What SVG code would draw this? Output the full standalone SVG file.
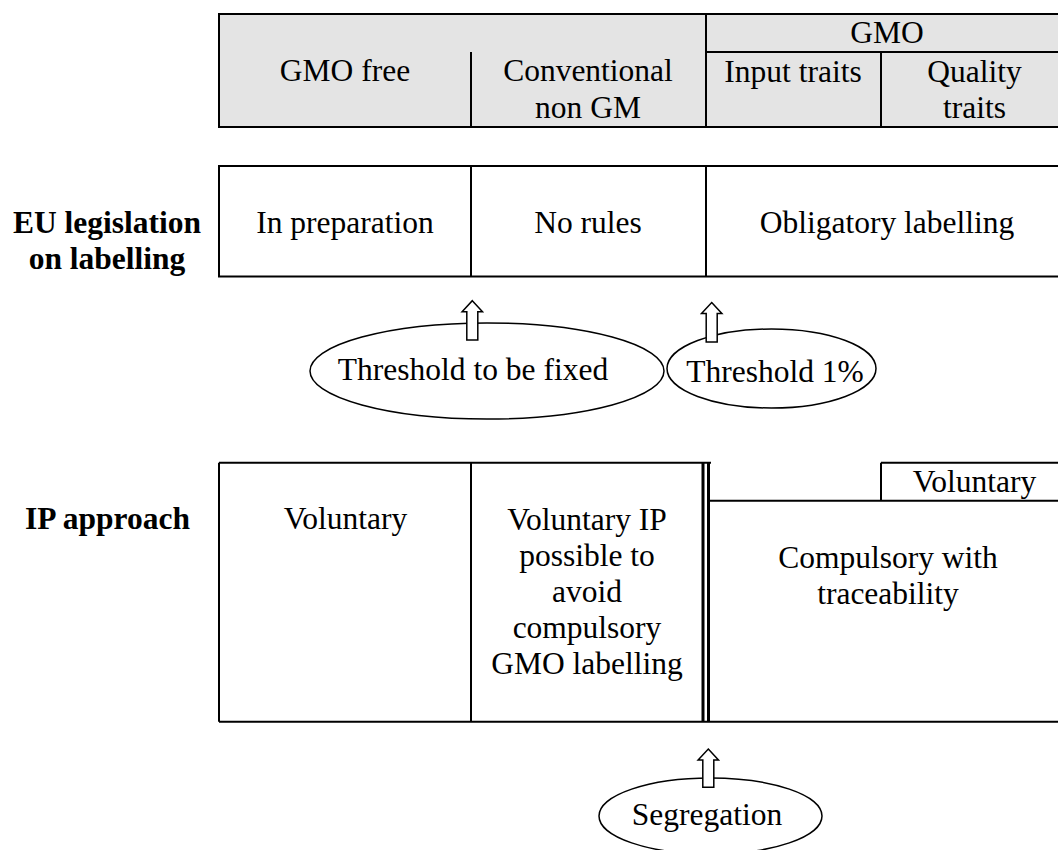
<svg xmlns="http://www.w3.org/2000/svg" width="1058" height="850" viewBox="0 0 1058 850">
<style>
text{font-family:"Liberation Serif","Times New Roman",serif;font-size:31.5px;fill:#000;text-anchor:middle}
.b{font-weight:bold}
.ln{stroke:#000;stroke-width:2;fill:none}
.hdr{fill:#e4e4e4;stroke:#000;stroke-width:2}
.box{fill:#fff;stroke:#000;stroke-width:2}
.ell{fill:#fff;stroke:#000;stroke-width:1.5}
.arr{fill:#fff;stroke:#000;stroke-width:1.5;stroke-linejoin:miter}
</style>
<rect width="1058" height="850" fill="#fff"/>

<g id="header">
<rect class="hdr" x="219" y="14" width="849" height="113"/>
<line class="ln" x1="471" y1="52" x2="471" y2="127"/>
<line class="ln" x1="706" y1="14" x2="706" y2="127"/>
<line class="ln" x1="706" y1="52" x2="1068" y2="52"/>
<line class="ln" x1="881" y1="52" x2="881" y2="127"/>
<text x="345" y="81">GMO free</text>
<text x="588" y="81">Conventional</text>
<text x="588" y="117.5">non GM</text>
<text x="887" y="43">GMO</text>
<text x="793" y="81.5">Input traits</text>
<text x="974.5" y="81.5">Quality</text>
<text x="974.5" y="118">traits</text>
</g>

<g id="eu-legislation">
<text class="b" x="107" y="232.5">EU legislation</text>
<text class="b" x="107" y="269">on labelling</text>
<rect class="box" x="219" y="166" width="849" height="110.5"/>
<line class="ln" x1="471" y1="166" x2="471" y2="276.5"/>
<line class="ln" x1="706" y1="166" x2="706" y2="276.5"/>
<text x="345" y="232.5">In preparation</text>
<text x="588" y="232.5">No rules</text>
<text x="887" y="232.5">Obligatory labelling</text>
</g>

<g id="threshold-fixed">
<ellipse class="ell" cx="487" cy="371" rx="177" ry="48"/>
<text x="473" y="380">Threshold to be fixed</text>
</g>

<g id="threshold-1">
<ellipse class="ell" cx="771.5" cy="368.5" rx="104.5" ry="39.5"/>
<text x="775" y="381.5">Threshold 1%</text>
</g>

<g id="ip-approach">
<text class="b" x="107.5" y="529.3">IP approach</text>
<path class="ln" d="M219,462.7 H711 M219,462.7 V721.7 M219,721.7 H1068 M471,462.7 V721.7"/>
<line x1="703" y1="462.7" x2="703" y2="721.7" stroke="#000" stroke-width="3"/>
<line x1="708.5" y1="462.7" x2="708.5" y2="721.7" stroke="#000" stroke-width="3"/>
<path class="ln" d="M710,500.7 H1068 M881,462.7 V500.7 M881,462.7 H1068"/>
<text x="345.5" y="529.3">Voluntary</text>
<text x="587" y="529.5">Voluntary IP</text>
<text x="587" y="566">possible to</text>
<text x="587" y="602">avoid</text>
<text x="587" y="638">compulsory</text>
<text x="587" y="674">GMO labelling</text>
<text x="974.5" y="492">Voluntary</text>
<text x="888" y="567.5">Compulsory with</text>
<text x="888" y="603.5">traceability</text>
</g>

<g id="segregation">
<ellipse class="ell" cx="710.5" cy="816" rx="111.5" ry="38"/>
<text x="707" y="825">Segregation</text>
</g>

<g id="connectors">
<polygon class="arr" points="472.3,300.7 482.5,311.7 477.8,311.7 477.8,340 466.8,340 466.8,311.7 462.1,311.7"/>
<polygon class="arr" points="711.7,302.5 721.9,313.5 717.2,313.5 717.2,342 706.2,342 706.2,313.5 701.5,313.5"/>
<polygon class="arr" points="708.3,749 718.5,760 713.8,760 713.8,787.3 702.8,787.3 702.8,760 698.1,760"/>
</g>
</svg>
